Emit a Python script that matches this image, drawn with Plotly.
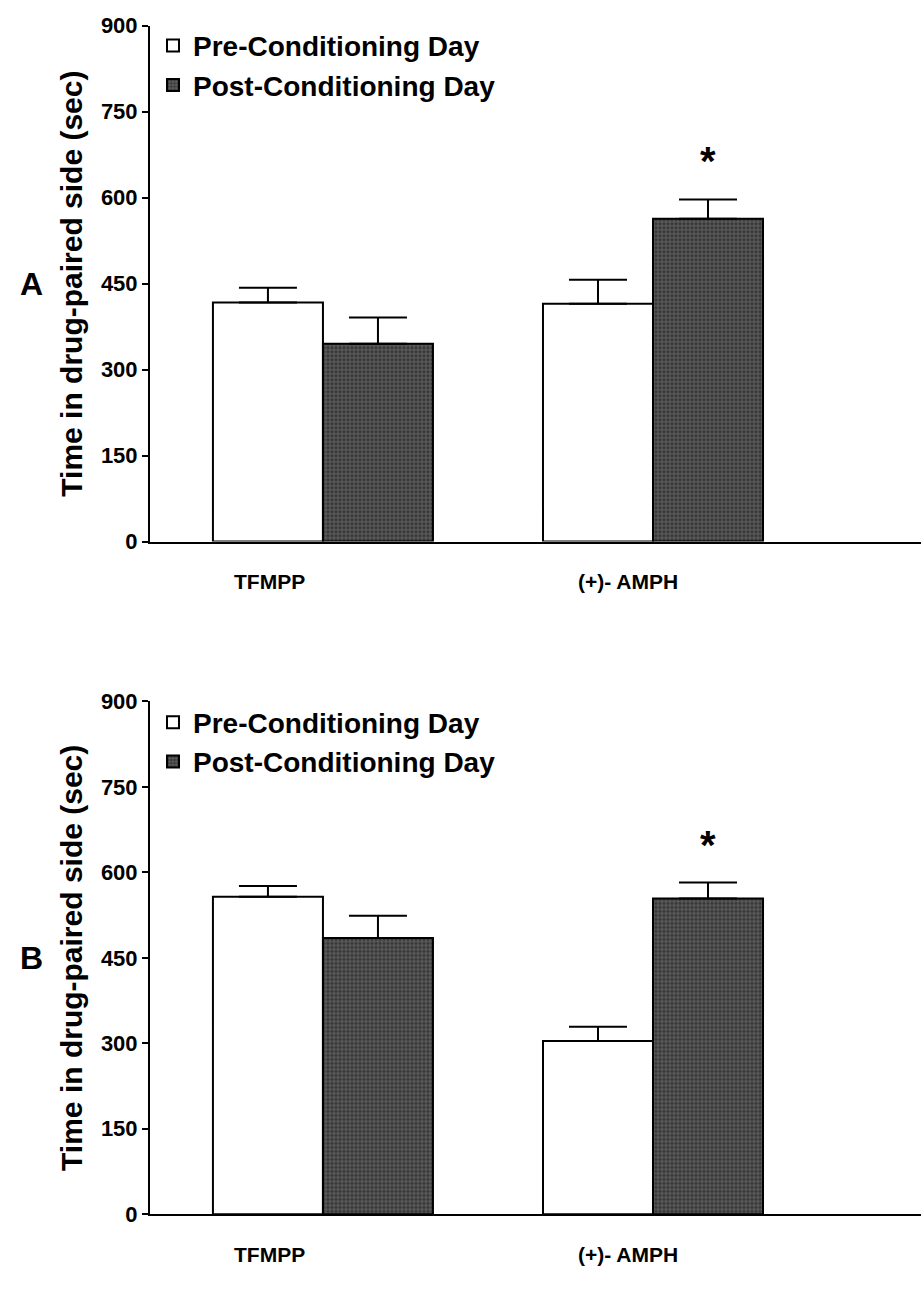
import plotly.graph_objects as go

# ---------------- data ----------------
categories = ["TFMPP", "(+)- AMPH"]
group_pos = [0, 1]
series_names = ["Pre-Conditioning Day", "Post-Conditioning Day"]

pre_A = [417, 415]
pre_A_err = [26, 42]
post_A = [345, 563]
post_A_err = [46, 34]

pre_B = [557, 304]
pre_B_err = [19, 25]
post_B = [485, 554]
post_B_err = [39, 28]

y_ticks = [0, 150, 300, 450, 600, 750, 900]
panel_labels = ["A", "B"]
sig_index = 1  # (+)- AMPH post-conditioning significant

# ---------------- style ----------------
FONT = "Liberation Sans, Arial, sans-serif"
W, H = 921, 1291
BARGAP = 1 / 3
bar_w = (1 - BARGAP) / 2
label_xshift = [-53, -25]

panels = [
    dict(pre=pre_A, pre_err=pre_A_err, post=post_A, post_err=post_A_err,
         xa="x", ya="y", legend="legend", ydom=[1 - 540 / H, 1 - 14 / H], leg_top=9),
    dict(pre=pre_B, pre_err=pre_B_err, post=post_B, post_err=post_B_err,
         xa="x2", ya="y2", legend="legend2", ydom=[1 - 1226 / H, 1 - 703 / H], leg_top=699),
]

fig = go.Figure()

for p in panels:
    fig.add_trace(go.Bar(
        x=group_pos, y=p["pre"], name=series_names[0],
        xaxis=p["xa"], yaxis=p["ya"], legend=p["legend"],
        marker=dict(color="white", line=dict(color="black", width=2)),
        error_y=dict(type="data", array=p["pre_err"], arrayminus=[0] * len(group_pos),
                     symmetric=False, color="black", thickness=2, width=29),
    ))
    fig.add_trace(go.Bar(
        x=group_pos, y=p["post"], name=series_names[1],
        xaxis=p["xa"], yaxis=p["ya"], legend=p["legend"],
        marker=dict(color="#5a5a5a", line=dict(color="black", width=2),
                    pattern=dict(shape=".", fillmode="overlay", fgcolor="#121212",
                                 size=4, solidity=0.5)),
        error_y=dict(type="data", array=p["post_err"], arrayminus=[0] * len(group_pos),
                     symmetric=False, color="black", thickness=2, width=29),
    ))

xdom = [150 / W, 1.0]
xrange = [-0.524, 1.812]

axis_common_x = dict(domain=xdom, range=xrange, showgrid=False, zeroline=False,
                     showline=True, linecolor="black", linewidth=2,
                     showticklabels=False, ticks="", fixedrange=True)
axis_common_y = dict(range=[0, 900], tickvals=y_ticks, showgrid=False, zeroline=False,
                     showline=True, linecolor="black", linewidth=2,
                     ticks="outside", ticklen=6, tickwidth=2, tickcolor="black",
                     tickfont=dict(family=FONT, size=22, color="black", weight="bold"),
                     title=dict(text="<b>Time in drug-paired side (sec)</b>",
                                font=dict(family=FONT, size=30, color="black"),
                                standoff=9))

legend_style = dict(xanchor="left", yanchor="top",
                    font=dict(family=FONT, size=28, color="black", weight="bold"),
                    bgcolor="rgba(0,0,0,0)", itemwidth=30)

fig.update_layout(
    width=W, height=H,
    margin=dict(l=0, r=0, t=0, b=0),
    paper_bgcolor="white", plot_bgcolor="white",
    barmode="group", bargap=BARGAP, bargroupgap=0,
    xaxis=dict(**axis_common_x, anchor="y"),
    yaxis=dict(**axis_common_y, domain=panels[0]["ydom"], anchor="x"),
    xaxis2=dict(**axis_common_x, anchor="y2"),
    yaxis2=dict(**axis_common_y, domain=panels[1]["ydom"], anchor="x2"),
    legend=dict(x=153 / W, y=1 - panels[0]["leg_top"] / H, **legend_style),
    legend2=dict(x=153 / W, y=1 - panels[1]["leg_top"] / H, **legend_style),
    showlegend=True,
)

annotations = []
for i, p in enumerate(panels):
    xa, ya = p["xa"], p["ya"]
    for pos, cat, dx in zip(group_pos, categories, label_xshift):
        annotations.append(dict(x=pos, y=0, xref=xa, yref=ya, text=f"<b>{cat}</b>",
                                showarrow=False, yshift=-40, xshift=dx,
                                font=dict(family=FONT, size=21, color="black")))
    annotations.append(dict(x=group_pos[sig_index] + bar_w / 2,
                            y=p["post"][sig_index] + p["post_err"][sig_index],
                            xref=xa, yref=ya, text="<b>*</b>", showarrow=False,
                            yshift=38, font=dict(family=FONT, size=40, color="black")))
    annotations.append(dict(x=18 / W, y=0.5, xref="paper", yref=f"{ya} domain",
                            text=f"<b>{panel_labels[i]}</b>", showarrow=False,
                            font=dict(family=FONT, size=32, color="black")))

fig.update_layout(annotations=annotations)

fig.write_html("out.html", config={"displayModeBar": False},
               post_script="document.body.style.margin='0';document.body.style.overflow='hidden';")
